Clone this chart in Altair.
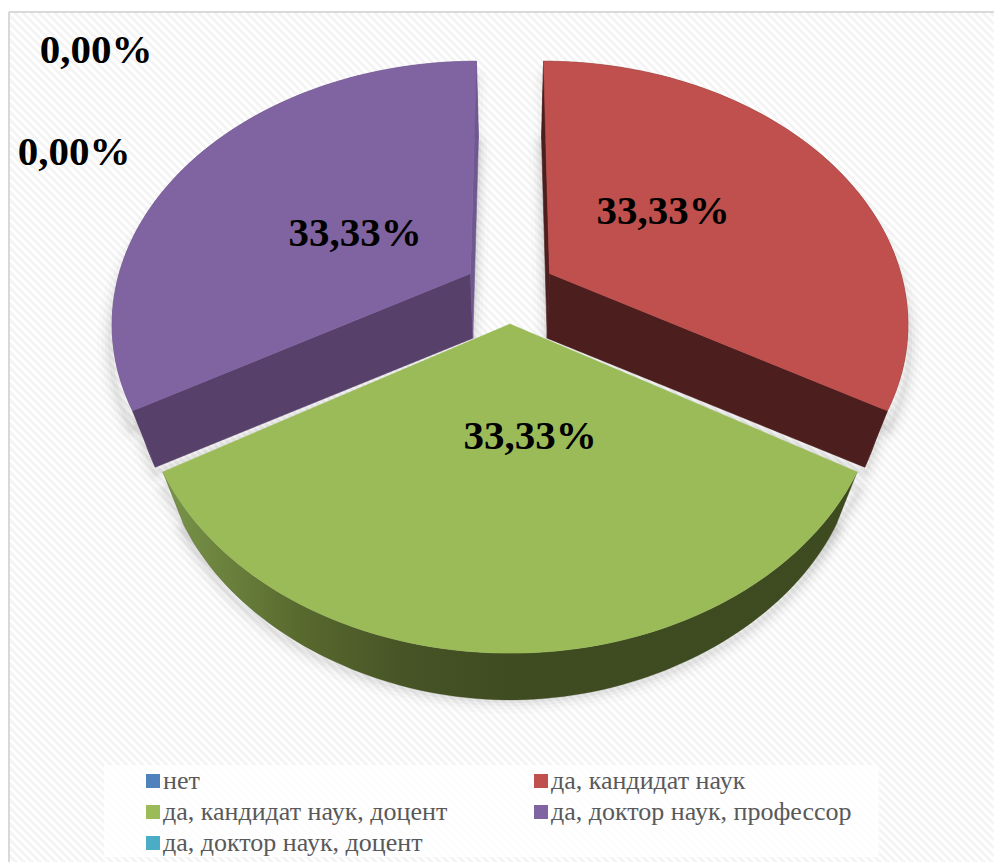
import numpy as np
import pandas as pd
import altair as alt

# ---- chart values ----
categories = ["нет", "да, кандидат наук", "да, кандидат наук, доцент",
              "да, доктор наук, профессор", "да, доктор наук, доцент"]
shares = [0.0, 33.33, 33.33, 33.33, 0.0]
top_colors = ["#4f81bd", "#c0504d", "#9bbb59", "#8064a2", "#4bacc6"]
edge_colors = ["#2c4a6e", "#4d1e1e", "#3e4a20", "#574069", "#2a6070"]

# ---- 3D pie view (camera parameters) ----
CX, CY, SX, SY, K, EXPLODE = 510, 290, 355.4, 256, 0.18, 0.13
DEPTH, NADIR = 0.94, 1350
XMIN, XMAX, YMIN, YMAX = 9, 994, 12, 862


def project(X, Y):
    w = 1 - K * Y
    return CX + SX * X / w, CY + SY * Y / w


def drop(px, py):
    return CX + DEPTH * (px - CX), NADIR + DEPTH * (py - NADIR)


def frame(px, py):
    px, py = np.asarray(px, float), np.asarray(py, float)
    return pd.DataFrame({"px": px, "py": py, "i": np.arange(len(px))})


X_ENC = alt.X("px:Q", axis=None, scale=alt.Scale(domain=[XMIN, XMAX], nice=False, zero=False))
Y_ENC = alt.Y("py:Q", axis=None, scale=alt.Scale(domain=[YMAX, YMIN], nice=False, zero=False))


def poly(df, fill, stroke=None, width=0.6, opacity=1.0):
    return alt.Chart(df).mark_line(
        fill=fill, stroke=stroke or (fill if isinstance(fill, str) else "#3e4a20"),
        strokeWidth=width, opacity=opacity, interpolate="linear-closed",
    ).encode(x=X_ENC, y=Y_ENC, order="i:Q")


def outline(df, width, opacity):
    return alt.Chart(df).mark_line(
        stroke="#555555", strokeWidth=width, opacity=opacity, interpolate="linear-closed",
        strokeJoin="round",
    ).encode(x=X_ENC, y=Y_ENC, order="i:Q")


green_wall = alt.Gradient(
    gradient="linear", x1=0, x2=1, y1=0, y2=0,
    stops=[
        alt.GradientStop(offset=0, color="#7a9549"),
        alt.GradientStop(offset=0.2, color="#58692e"),
        alt.GradientStop(offset=0.35, color="#465426"),
        alt.GradientStop(offset=0.5, color="#3f4c21"),
        alt.GradientStop(offset=1, color="#3e4a20"),
    ],
)

fractions = np.array(shares) / sum(shares)
ends = np.cumsum(fractions) * 2 * np.pi
starts = ends - fractions * 2 * np.pi

shadow_layers, side_layers, top_layers = [], [], []
draw_order = [3, 1, 2]
for idx in draw_order:
    t0, t1 = starts[idx], ends[idx]
    mid = (t0 + t1) / 2
    ex, ey = EXPLODE * np.sin(mid), -EXPLODE * np.cos(mid)
    th = np.linspace(t0, t1, 90)
    rx, ry = project(ex + np.sin(th), ey - np.cos(th))
    ax, ay = project(ex, ey)
    bx, by = drop(rx, ry)
    bax, bay = drop(ax, ay)
    if idx == 2:
        by = by + 5 * np.cos(th - mid) ** 8

    # soft shadow
    sx_ = np.r_[ax, rx]
    sy_ = np.r_[ay, ry]
    for d, (wd, op) in zip([6, 6, 6, 6], [(26, 0.02), (18, 0.03), (11, 0.04), (5, 0.05)]):
        shadow_layers.append(outline(frame(*drop(sx_, sy_ + d)), wd, op))
        shadow_layers.append(outline(frame(sx_ + (d if idx != 3 else -d) * 0.3, sy_ + d * 3), wd, op))

    # walls
    edge = edge_colors[idx]
    wall_fill = green_wall if idx == 2 else edge
    strip = "#6f5890" if idx == 3 else edge
    side_layers.append(poly(frame(np.r_[rx, bx[::-1]], np.r_[ry, by[::-1]]), wall_fill, stroke=edge, width=0.3))
    if idx != 2:
        first = strip if t0 == 0 else edge
        second = strip if abs(t1 - 2 * np.pi) < 1e-6 else edge
        side_layers.append(poly(frame([ax, rx[0], bx[0], bax], [ay, ry[0], by[0], bay]), first))
        side_layers.append(poly(frame([ax, rx[-1], bx[-1], bax], [ay, ry[-1], by[-1], bay]), second))
    # top face
    top_layers.append(poly(frame(np.r_[ax, rx], np.r_[ay, ry]), top_colors[idx]))

# background stripes
offsets = np.arange(-1010, 870, 8)
stripes = pd.DataFrame({"px": XMIN, "px2": XMAX, "py": XMIN + offsets, "py2": XMAX + offsets})
stripe_layer = alt.Chart(stripes).mark_rule(color="#f4f4f4", strokeWidth=2.8, clip=True).encode(
    x=X_ENC, x2="px2:Q", y=Y_ENC, y2="py2:Q"
)

one = pd.DataFrame({"k": [0]})
legend_box = alt.Chart(one).mark_rect(color="#ffffff", opacity=0.8).encode(
    x=alt.value(95), x2=alt.value(870), y=alt.value(753), y2=alt.value(845)
)
border_left = alt.Chart(one).mark_rule(color="#d9d9d9", strokeWidth=2).encode(
    x=alt.value(0), y=alt.value(0), y2=alt.value(YMAX - YMIN)
)
border_top = alt.Chart(one).mark_rule(color="#d9d9d9", strokeWidth=2).encode(
    y=alt.value(0), x=alt.value(0), x2=alt.value(XMAX - XMIN)
)


# percent labels
def pct(v):
    return f"{v:.2f}%".replace(".", ",")


label_layers = []
for idx, lx, ly in [(0, 87, 39), (4, 65, 141), (1, 654, 200), (2, 521, 425), (3, 346, 222)]:
    label_layers.append(
        alt.Chart(pd.DataFrame({"t": [pct(shares[idx])]})).mark_text(
            font="Liberation Serif", fontWeight="bold", fontSize=41, color="#000000",
            align="center", baseline="middle",
        ).encode(x=alt.value(lx), y=alt.value(ly), text="t:N")
    )

# legend
legend_layer = alt.Chart(pd.DataFrame({"cat": categories})).mark_point(
    filled=True, shape="square", opacity=0, size=1
).encode(
    x=alt.value(0), y=alt.value(0),
    fill=alt.Fill(
        "cat:N",
        scale=alt.Scale(domain=categories, range=top_colors),
        sort=categories,
        legend=alt.Legend(
            title=None, orient="none", legendX=131, legendY=756, columns=2, direction="horizontal",
            symbolType="square", symbolSize=196, symbolOpacity=1, symbolStrokeWidth=0,
            labelFont="Liberation Serif", labelFontSize=26, labelColor="#595959",
            labelLimit=400, labelOffset={"expr": "-3"}, rowPadding=5, columnPadding=80, padding=0,
        ),
    ),
)

chart = alt.layer(
    stripe_layer, border_left, border_top, legend_box,
    *shadow_layers, *side_layers, *top_layers, *label_layers, legend_layer
).properties(
    width=XMAX - XMIN, height=YMAX - YMIN,
    padding={"left": 1, "top": 4, "right": 0, "bottom": 0},
    autosize=alt.AutoSizeParams(type="none"),
    background="#ffffff",
).configure_view(stroke=None)

chart.save("out.html", embed_options={"renderer": "svg", "actions": False})
